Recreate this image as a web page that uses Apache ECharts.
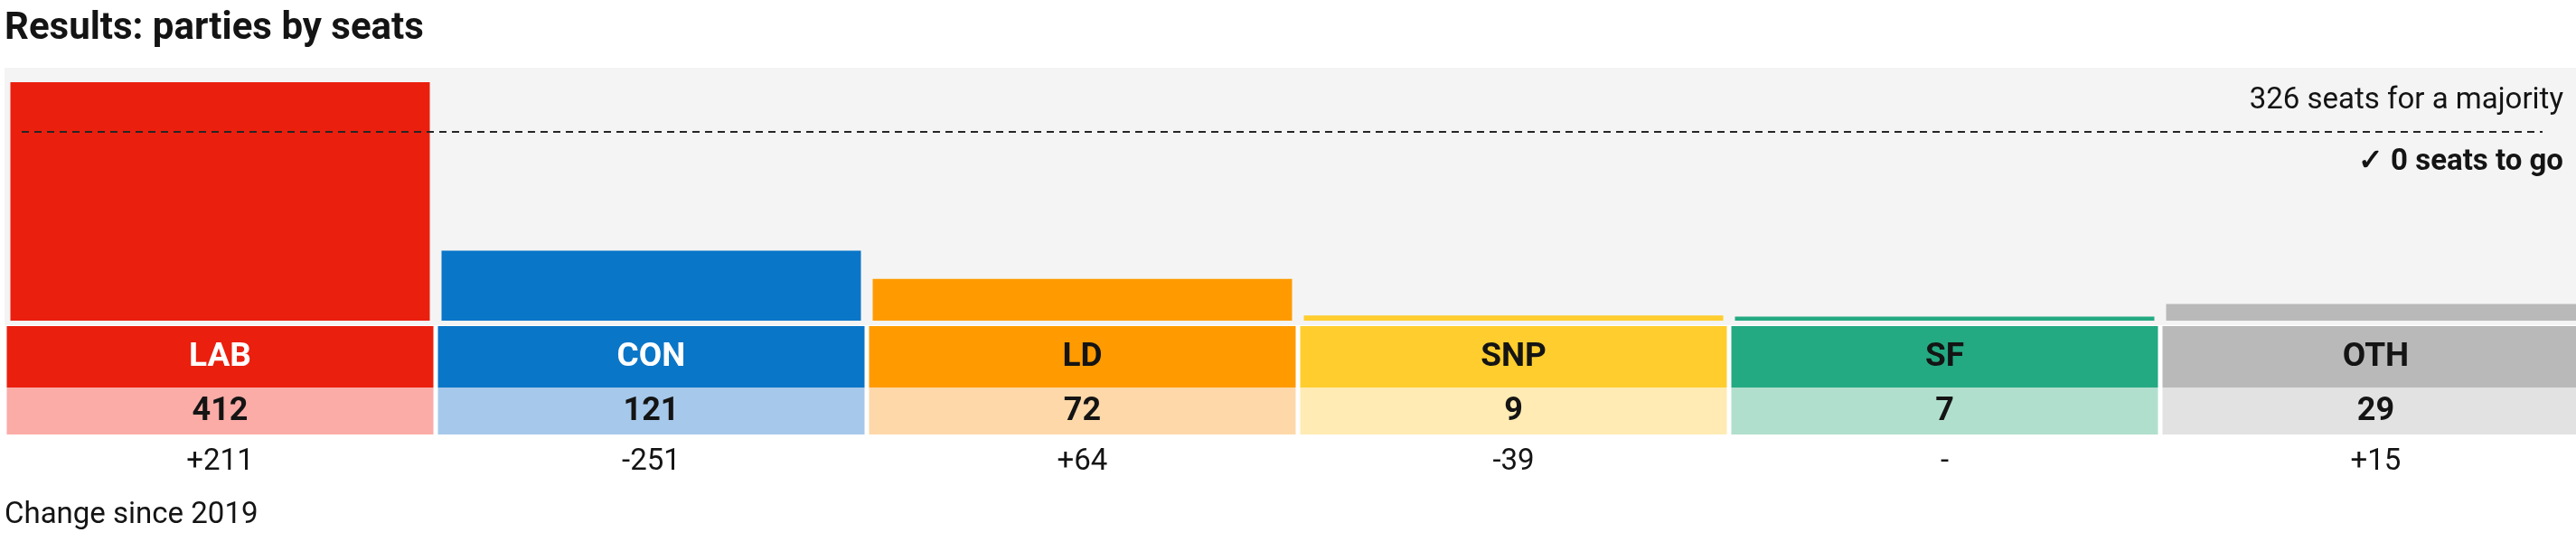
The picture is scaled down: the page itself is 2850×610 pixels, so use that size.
<!DOCTYPE html>
<html>
<head>
<meta charset="utf-8">
<script src="https://cdn.jsdelivr.net/npm/echarts@6/dist/echarts.min.js"></script>
<style>
  html, body { margin: 0; padding: 0; background: #fff; overflow: hidden; }
  #chart { width: 2850px; height: 610px; }
</style>
</head>
<body>
<div id="chart"></div>
<script>
const parties = ['LAB', 'CON', 'LD', 'SNP', 'SF', 'OTH']
const seats = [412, 121, 72, 9, 7, 29]
const changes = ['+211', '-251', '+64', '-39', '-', '+15']
const majority = 326
const seatsToGo = 0

const partyColors = ['#ea1f0e', '#0a76c8', '#ff9b00', '#ffcd2e', '#24aa83', '#b9b9b9']
const lightColors = ['#fbaca7', '#a6c8ea', '#fed8a9', '#ffebb3', '#b0dfcd', '#e2e2e2']
const headerText = ['#ffffff', '#ffffff', '#141414', '#141414', '#141414', '#141414']

const FONT = 'Roboto'
const INK = '#141414'

// table rows: value row sits under the party header row
const valueRowH = 52
const headerRowH = 68

const chart = echarts.init(document.getElementById('chart'))

const option = {
  animation: false,
  title: {
    text: 'Results: parties by seats',
    left: 5,
    top: 11,
    padding: 0,
    textStyle: { fontFamily: FONT, fontSize: 42, fontWeight: 'bold', color: INK }
  },
  graphic: [
    {
      type: 'rect',
      z: -10,
      shape: { x: 5, y: 75, width: 2845, height: 285 },
      style: { fill: '#f4f4f4' }
    },
    {
      type: 'text',
      z: 10,
      x: 2836,
      y: 112,
      style: {
        text: majority + ' seats for a majority',
        font: '33px ' + FONT,
        fill: INK,
        align: 'right',
        verticalAlign: 'middle'
      }
    },
    {
      type: 'text',
      z: 10,
      x: 2836,
      y: 180,
      style: {
        text: '\u2713 ' + seatsToGo + ' seats to go',
        font: 'bold 33px ' + FONT,
        fill: INK,
        align: 'right',
        verticalAlign: 'middle'
      }
    },
    {
      type: 'text',
      z: 10,
      x: 5,
      y: 571,
      style: {
        text: 'Change since 2019',
        font: '33px ' + FONT,
        fill: INK,
        align: 'left',
        verticalAlign: 'middle'
      }
    }
  ],
  // the last column runs past the right edge, as in the original
  grid: [
    { left: 5, width: 2862, top: 91, height: 264, outerBoundsMode: 'none', containLabel: false },
    { left: 5, width: 2862, top: 361, height: valueRowH + headerRowH, outerBoundsMode: 'none', containLabel: false }
  ],
  xAxis: [
    {
      gridIndex: 0,
      type: 'category',
      data: parties,
      axisLine: { show: false },
      axisTick: { show: false },
      axisLabel: { show: false }
    },
    {
      gridIndex: 1,
      type: 'category',
      data: parties,
      axisLine: { show: false },
      axisTick: { show: false },
      axisLabel: {
        margin: 14,
        fontFamily: FONT,
        fontSize: 33,
        lineHeight: 33,
        color: INK,
        formatter: (v, i) => changes[i]
      }
    }
  ],
  yAxis: [
    {
      gridIndex: 0,
      type: 'value',
      min: 0,
      max: Math.max(...seats),
      show: false,
      splitLine: { show: false }
    },
    {
      gridIndex: 1,
      type: 'value',
      min: 0,
      max: valueRowH + headerRowH,
      show: false,
      splitLine: { show: false }
    }
  ],
  series: [
    {
      name: 'Seats',
      type: 'bar',
      xAxisIndex: 0,
      yAxisIndex: 0,
      barWidth: 464,
      data: seats.map((v, i) => ({ value: v, itemStyle: { color: partyColors[i] } })),
      markLine: {
        silent: true,
        symbol: 'none',
        label: { show: false },
        lineStyle: { type: [8, 6], color: '#262626', width: 2 },
        data: [[{ x: 24, yAxis: majority }, { x: 2813, yAxis: majority }]]
      }
    },
    {
      name: 'Seat count',
      type: 'bar',
      stack: 'table',
      xAxisIndex: 1,
      yAxisIndex: 1,
      barWidth: 472,
      data: seats.map((v, i) => ({
        value: valueRowH,
        itemStyle: { color: lightColors[i] }
      })),
      label: {
        show: true,
        position: 'inside',
        offset: [0, 1],
        fontFamily: FONT,
        fontSize: 36,
        fontWeight: 'bold',
        color: INK,
        formatter: p => String(seats[p.dataIndex])
      }
    },
    {
      name: 'Party',
      type: 'bar',
      stack: 'table',
      xAxisIndex: 1,
      yAxisIndex: 1,
      barWidth: 472,
      data: parties.map((p, i) => ({
        value: headerRowH,
        itemStyle: { color: partyColors[i] },
        label: { color: headerText[i] }
      })),
      label: {
        show: true,
        position: 'inside',
        offset: [0, 1],
        fontFamily: FONT,
        fontSize: 37,
        fontWeight: 'bold',
        formatter: p => parties[p.dataIndex]
      }
    }
  ]
}

chart.setOption(option)
window.addEventListener('resize', () => chart.resize())
</script>
</body>
</html>
